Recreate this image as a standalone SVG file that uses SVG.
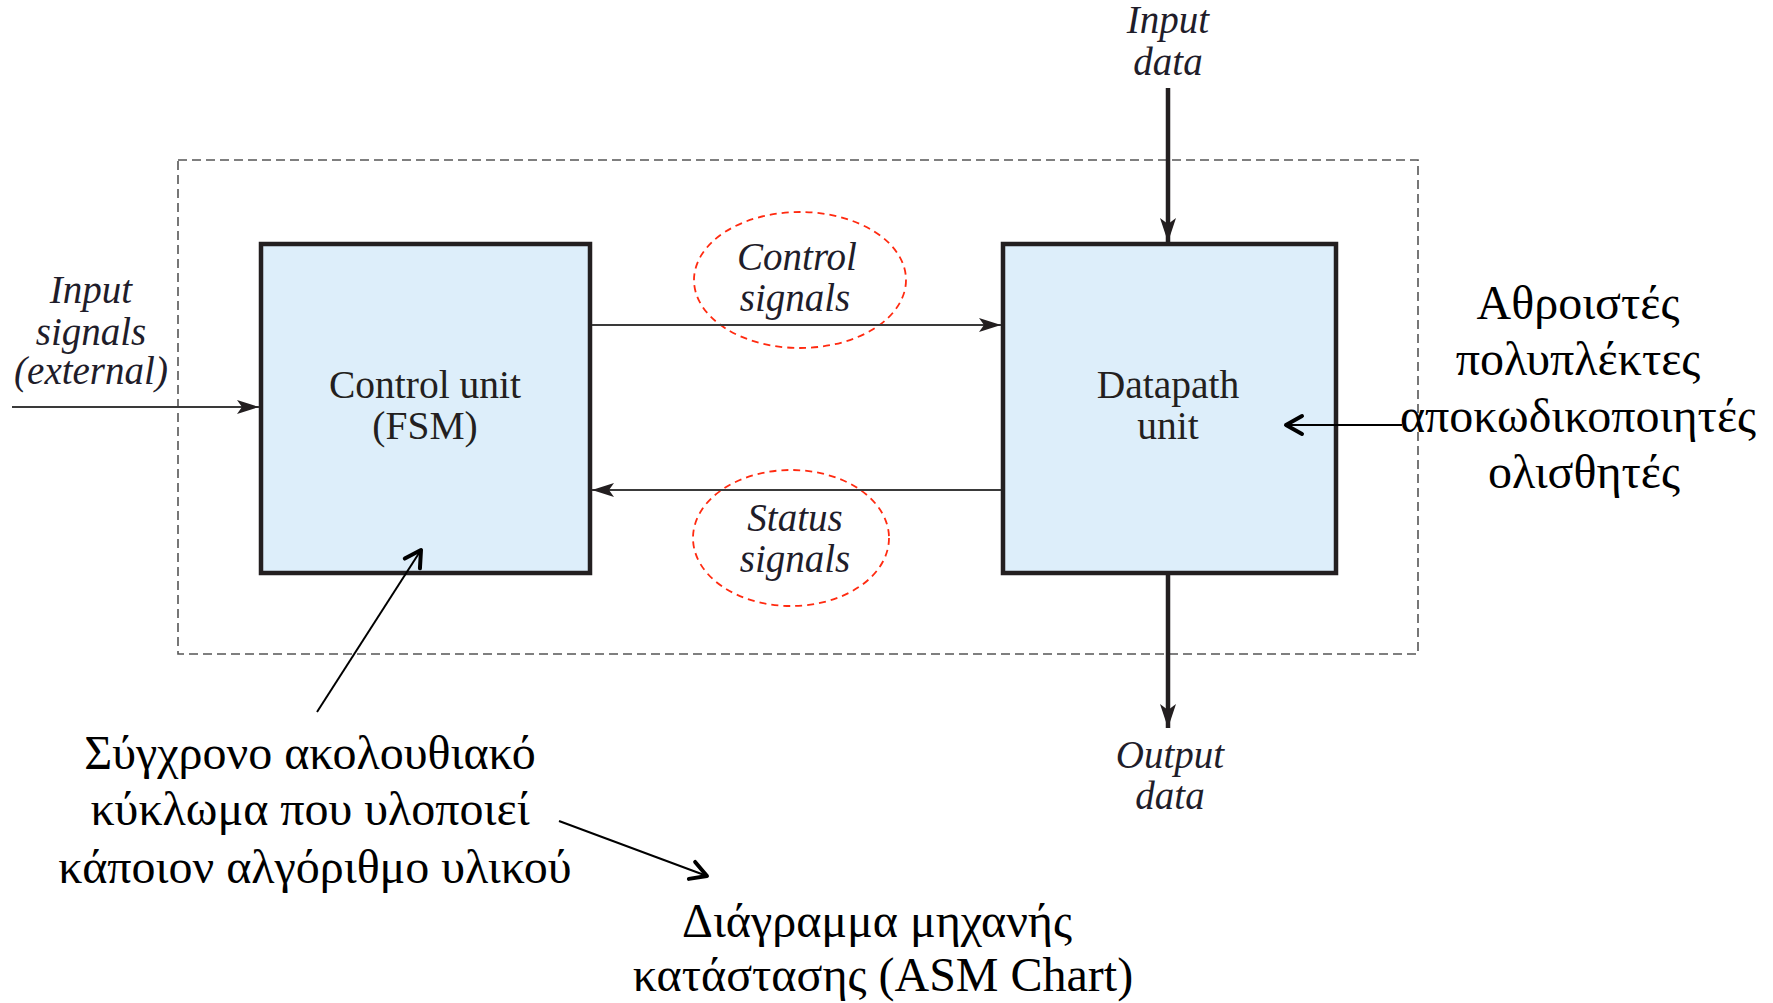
<svg xmlns="http://www.w3.org/2000/svg" width="1773" height="1003" viewBox="0 0 1773 1003">
  <style>
    .box { fill: #ddeefa; stroke: #231f20; stroke-width: 4.5; }
    .frame { fill: none; stroke: #555; stroke-width: 1.6; stroke-dasharray: 9 5; }
    .oval { fill: none; stroke: #ff2a10; stroke-width: 1.8; stroke-dasharray: 7 5; }
    .thin { fill: none; stroke: #3a3a3a; stroke-width: 1.8; }
    .thick { fill: none; stroke: #231f20; stroke-width: 4.5; }
    .note { fill: none; stroke: #000; stroke-width: 2; }
    .lbl { font-family: "Liberation Serif", "Times New Roman", serif; font-style: italic; font-size: 39px; fill: #1f1d2a; text-anchor: middle; }
    .unit { font-family: "Liberation Serif", "Times New Roman", serif; font-size: 39.5px; fill: #231f20; text-anchor: middle; }
    .gr { font-family: "Liberation Serif", "Times New Roman", serif; font-size: 48px; fill: #000; text-anchor: middle; }
  </style>
  <defs>
    <marker id="barb" markerUnits="userSpaceOnUse" markerWidth="24" markerHeight="18" viewBox="0 0 24 18" refX="22" refY="9" orient="auto">
      <path d="M0,2 L22,9 L0,16 L5,9 Z" fill="#231f20"/>
    </marker>
    <marker id="barbBig" markerUnits="userSpaceOnUse" markerWidth="26" markerHeight="20" viewBox="0 0 26 20" refX="24" refY="10" orient="auto">
      <path d="M0,2 L24,10 L0,18 L6,10 Z" fill="#231f20"/>
    </marker>
    <marker id="open" markerUnits="userSpaceOnUse" markerWidth="26" markerHeight="26" viewBox="0 0 26 26" refX="22" refY="13" orient="auto">
      <path d="M6,4 L22,13 L6,22" fill="none" stroke="#000" stroke-width="4" stroke-linecap="round" stroke-linejoin="round"/>
    </marker>
  </defs>

  <!-- system boundary -->
  <rect class="frame" x="178" y="160" width="1240" height="494"/>

  <g id="control-unit">
    <rect class="box" x="261" y="244" width="329" height="329"/>
    <text class="unit" x="425" y="398">Control unit</text>
    <text class="unit" x="425" y="439">(FSM)</text>
  </g>

  <g id="datapath-unit">
    <rect class="box" x="1003" y="244" width="333" height="329"/>
    <text class="unit" x="1168" y="398">Datapath</text>
    <text class="unit" x="1168" y="439">unit</text>
  </g>

  <g id="control-signals">
    <ellipse class="oval" cx="800" cy="280" rx="106" ry="68"/>
    <text class="lbl" x="797" y="270">Control</text>
    <text class="lbl" x="795" y="311">signals</text>
  </g>

  <g id="status-signals">
    <ellipse class="oval" cx="791" cy="538" rx="98" ry="68"/>
    <text class="lbl" x="795" y="531">Status</text>
    <text class="lbl" x="795" y="572">signals</text>
  </g>

  <g id="input-signals">
    <text class="lbl" x="91" y="303">Input</text>
    <text class="lbl" x="91" y="345">signals</text>
    <text class="lbl" x="91" y="384">(external)</text>
  </g>

  <g id="input-data">
    <text class="lbl" x="1168" y="33">Input</text>
    <text class="lbl" x="1168" y="75">data</text>
  </g>

  <g id="output-data">
    <text class="lbl" x="1170" y="768">Output</text>
    <text class="lbl" x="1170" y="809">data</text>
  </g>

  <g id="datapath-parts">
    <text class="gr" x="1578" y="319">Αθροιστές</text>
    <text class="gr" x="1578" y="375">πολυπλέκτες</text>
    <text class="gr" x="1578" y="432">αποκωδικοποιητές</text>
    <text class="gr" x="1584" y="488">ολισθητές</text>
  </g>

  <g id="fsm-note">
    <text class="gr" x="310" y="769">Σύγχρονο ακολουθιακό</text>
    <text class="gr" x="310" y="825">κύκλωμα που υλοποιεί</text>
    <text class="gr" x="315" y="883">κάποιον αλγόριθμο υλικού</text>
  </g>

  <g id="asm-chart">
    <text class="gr" x="877" y="937">Διάγραμμα μηχανής</text>
    <text class="gr" x="883" y="991">κατάστασης (ASM Chart)</text>
  </g>

  <g id="connectors">
    <line class="thin" x1="12" y1="407" x2="259" y2="407" marker-end="url(#barb)"/>
    <line class="thin" x1="592" y1="325" x2="1001" y2="325" marker-end="url(#barb)"/>
    <line class="thin" x1="1001" y1="490" x2="592" y2="490" marker-end="url(#barb)"/>
    <line class="thick" x1="1168" y1="88" x2="1168" y2="242" marker-end="url(#barbBig)"/>
    <line class="thick" x1="1168" y1="575" x2="1168" y2="728" marker-end="url(#barbBig)"/>
    <line class="note" x1="1402" y1="425" x2="1286" y2="425" marker-end="url(#open)"/>
    <line class="note" x1="317" y1="712" x2="421" y2="550" marker-end="url(#open)"/>
    <line class="note" x1="559" y1="821" x2="707" y2="876" marker-end="url(#open)"/>
  </g>
</svg>
